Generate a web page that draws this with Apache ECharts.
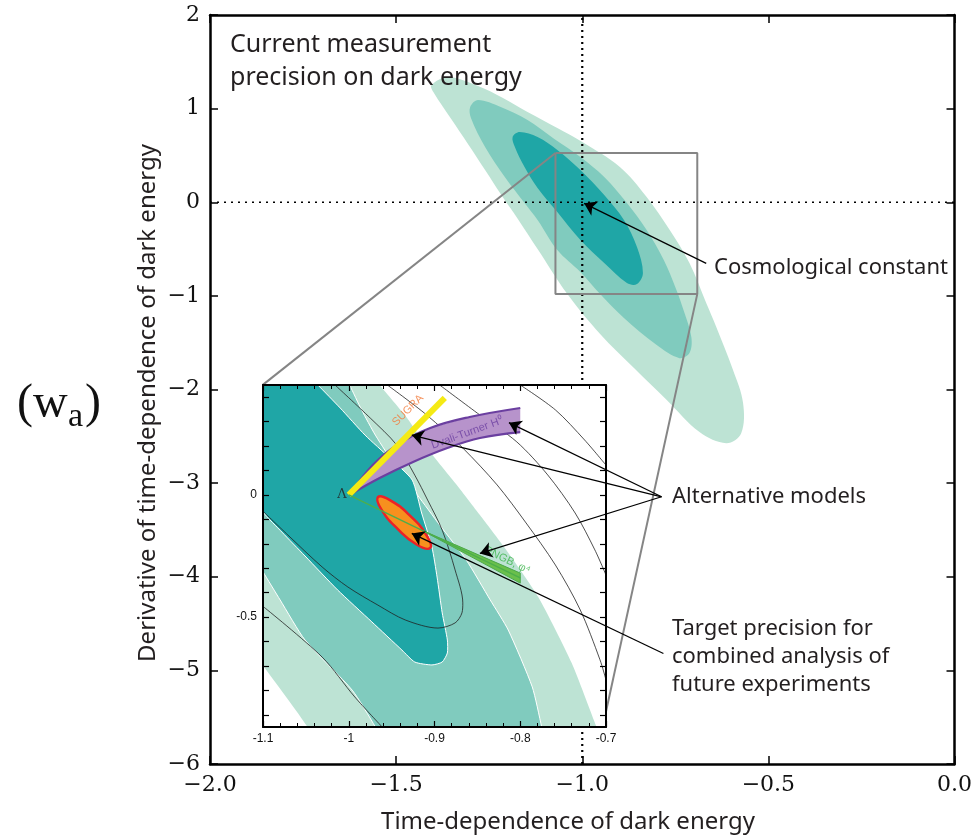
<!DOCTYPE html>
<html>
<head>
<meta charset="utf-8">
<script src="https://cdn.jsdelivr.net/npm/echarts@6/dist/echarts.min.js"></script>
<style>
html, body { margin: 0; background: #fff; }
#chart { width: 975px; height: 839px; }
</style>
</head>
<body>
<div id="chart"></div>
<script>
// main panel: confidence contours (w0, wa), outlines
var OUTER = [[-1.405,1.252],[-1.36,1.338],[-1.28,1.241],[-1.213,1.113],[-1.147,0.964],[-1.067,0.793],[-1.0,0.643],[-0.899,0.376],[-0.827,0.056],[-0.765,-0.297],[-0.712,-0.650],[-0.667,-1.077],[-0.64,-1.333],[-0.595,-1.793],[-0.568,-2.145],[-0.573,-2.466],[-0.613,-2.573],[-0.685,-2.455],[-0.773,-2.113],[-0.861,-1.771],[-0.952,-1.408],[-1.04,-0.981],[-1.12,-0.500],[-1.173,-0.179],[-1.219,0.088],[-1.261,0.344],[-1.307,0.622],[-1.352,0.889],[-1.4,1.177]];
var MIDDLE = [[-1.301,1.017],[-1.28,1.092],[-1.219,1.017],[-1.147,0.878],[-1.075,0.675],[-1.005,0.483],[-0.941,0.269],[-0.88,-0.009],[-0.827,-0.297],[-0.781,-0.618],[-0.747,-0.938],[-0.728,-1.152],[-0.707,-1.440],[-0.712,-1.611],[-0.739,-1.665],[-0.8,-1.526],[-0.888,-1.237],[-0.952,-0.981],[-1.005,-0.746],[-1.067,-0.511],[-1.12,-0.190],[-1.155,-0.009],[-1.208,0.269],[-1.261,0.590],[-1.299,0.900]];
var INNER = [[-1.187,0.697],[-1.168,0.75],[-1.12,0.697],[-1.067,0.558],[-1.005,0.344],[-0.941,0.077],[-0.888,-0.190],[-0.853,-0.479],[-0.837,-0.756],[-0.853,-0.874],[-0.88,-0.863],[-0.941,-0.650],[-1.005,-0.404],[-1.067,-0.105],[-1.12,0.152],[-1.155,0.376],[-1.181,0.590]];

// zoom box and its connectors
var ZOOM_BOX = [[-1.072,0.526],[-0.691,0.526],[-0.691,-0.981],[-1.072,-0.981],[-1.072,0.526]];
var CONNECT_1 = [[-1.072,0.526],[-1.859,-1.953]];
var CONNECT_2 = [[-0.691,-0.981],[-0.944,-5.58]];
var LAMBDA_V = [[-1,-6],[-1,2]];
var LAMBDA_H = [[-2,0],[0,0]];

// inset panel
var IN_LIGHT = [[-1.15,0.5],[-0.975,0.5],[-0.964,0.45],[-0.932,0.315],[-0.905,0.176],[-0.874,0.041],[-0.847,-0.082],[-0.818,-0.217],[-0.779,-0.418],[-0.740,-0.688],[-0.711,-0.95],[-0.705,-1.0],[-1.045,-1.0],[-1.048,-0.95],[-1.099,-0.703],[-1.12,-0.6],[-1.15,-0.6]];
var IN_MEDIUM = [[-1.15,0.5],[-1.006,0.5],[-0.999,0.45],[-0.985,0.348],[-0.969,0.245],[-0.944,0.110],[-0.920,0.0],[-0.894,-0.123],[-0.863,-0.266],[-0.835,-0.430],[-0.814,-0.553],[-0.786,-0.786],[-0.775,-0.95],[-0.772,-1.0],[-0.963,-1.0],[-0.969,-0.95],[-0.996,-0.799],[-1.051,-0.594],[-1.080,-0.430],[-1.1,-0.315],[-1.12,-0.2],[-1.15,-0.2]];
var IN_DARK = [[-1.15,0.5],[-1.05,0.5],[-1.036,0.45],[-1.010,0.356],[-0.981,0.245],[-0.952,0.151],[-0.926,0.061],[-0.915,-0.074],[-0.903,-0.213],[-0.897,-0.336],[-0.891,-0.483],[-0.885,-0.594],[-0.885,-0.647],[-0.891,-0.684],[-0.903,-0.696],[-0.923,-0.684],[-0.938,-0.635],[-0.973,-0.520],[-1.013,-0.389],[-1.051,-0.250],[-1.078,-0.152],[-1.1,-0.070],[-1.13,0.10],[-1.15,0.10]];
var IN_LINE_1 = [[-1.016,0.45],[-0.975,0.315],[-0.944,0.204],[-0.923,0.081],[-0.908,-0.021],[-0.891,-0.144],[-0.876,-0.307],[-0.867,-0.442],[-0.868,-0.483],[-0.876,-0.524],[-0.896,-0.545],[-0.934,-0.512],[-0.966,-0.451],[-1.001,-0.377],[-1.031,-0.295],[-1.071,-0.164],[-1.099,-0.070]];
var IN_LINE_2 = [[-1.099,-0.459],[-1.031,-0.664],[-0.993,-0.827],[-0.961,-0.95]];
var ARC_A = [[-0.955,0.45],[-0.909,0.327],[-0.867,0.192],[-0.827,0.041],[-0.794,-0.111],[-0.759,-0.287],[-0.730,-0.471],[-0.707,-0.675],[-0.700,-0.757]];
var ARC_B = [[-0.894,0.45],[-0.847,0.327],[-0.804,0.217],[-0.768,0.082],[-0.736,-0.074],[-0.713,-0.225],[-0.700,-0.328]];
var ARC_C = [[-0.800,0.45],[-0.759,0.348],[-0.725,0.225],[-0.700,0.122]];

var SUGRA = [[-1.0,0.0],[-0.888,0.397]];
var DT_UPPER = [[-0.999,0.0],[-0.972,0.122],[-0.944,0.204],[-0.905,0.274],[-0.859,0.319],[-0.800,0.356]];
var DT_LOWER = [[-0.999,0.0],[-0.964,0.069],[-0.925,0.135],[-0.885,0.192],[-0.847,0.233],[-0.800,0.257]];
var PNGB_LINE = [[-1.0,0.0],[-0.800,-0.340]];
var PNGB_WEDGE = [[-0.915,-0.144],[-0.800,-0.320],[-0.800,-0.361]];
var TARGET = [[-0.966,-0.009],[-0.952,-0.021],[-0.928,-0.087],[-0.909,-0.167],[-0.905,-0.217],[-0.920,-0.205],[-0.943,-0.139],[-0.962,-0.059]];

var IN_Y_TICKS = [0.4,0.3,0.2,0.1,0,-0.1,-0.2,-0.3,-0.4,-0.5,-0.6,-0.7,-0.8,-0.9];
var IN_Y_LABELS = [0,-0.5];

// annotation arrows (start -> head) in main-axis units
var ARROWS = [
  [[-0.667,-0.653],[-0.995,-0.012]],
  [[-0.787,-3.146],[-1.197,-2.354]],
  [[-0.787,-3.146],[-1.458,-2.487]],
  [[-0.787,-3.146],[-1.275,-3.751]],
  [[-0.782,-4.819],[-1.458,-3.537]]
];

var SANS = '"Noto Sans", "Open Sans", sans-serif';
var SERIF = '"DejaVu Serif", serif';
var INK = '#231f20';

function minus(s) { return String(s).replace('-', '\u2212'); }

function polygonSeries(pts, fill, z, inset, extra) {
  extra = extra || {};
  return {
    type: 'custom',
    xAxisIndex: inset ? 2 : 0,
    yAxisIndex: inset ? 2 : 0,
    z: z,
    clip: !!inset,
    silent: true,
    animation: false,
    data: pts,
    renderItem: function (params, api) {
      if (params.dataIndex !== 0) return;
      var points = pts.map(function (p) { return api.coord(p); });
      return {
        type: 'polygon',
        shape: { points: points, smooth: extra.smooth == null ? 0.35 : extra.smooth },
        style: { fill: fill, stroke: extra.stroke || null, lineWidth: extra.lineWidth || 0 }
      };
    }
  };
}

function pathSeries(pts, color, width, z, inset, extra) {
  extra = extra || {};
  return {
    type: 'line',
    xAxisIndex: inset ? 2 : 0,
    yAxisIndex: inset ? 2 : 0,
    data: pts,
    z: z,
    symbol: 'none',
    silent: true,
    animation: false,
    clip: true,
    smooth: extra.smooth || false,
    lineStyle: { color: color, width: width, type: extra.type || 'solid', cap: extra.cap || 'butt' }
  };
}

function axisCommon(extra) {
  var base = {
    type: 'value',
    splitLine: { show: false },
    axisLine: { show: true, onZero: false, lineStyle: { color: '#000', width: 2.5 } },
    axisTick: { show: true, inside: true, length: 8, lineStyle: { color: '#000', width: 1.5 } }
  };
  return Object.assign(base, extra);
}

var mainLabel = { fontFamily: SERIF, fontSize: 22, color: '#111', margin: 10 };

var inLabel = { fontFamily: '"Liberation Sans Narrow", "Liberation Sans", sans-serif', fontSize: 12, color: '#111', margin: 6 };
var inLine = { show: true, onZero: false, lineStyle: { color: '#000', width: 2 } };
var inTick = { show: true, inside: true, length: 6, lineStyle: { color: '#000', width: 1.2 } };

var option = {
  backgroundColor: '#fff',
  animation: false,
  grid: [
    { left: 210, top: 15, width: 750, height: 749, show: false },
    { left: 263, top: 385, width: 343, height: 342, show: false }
  ],
  xAxis: [
    axisCommon({ gridIndex: 0, position: 'bottom', min: -2, max: 0, interval: 0.5,
      axisLabel: Object.assign({ formatter: function (v) { return minus(v.toFixed(1)); } }, mainLabel) }),
    axisCommon({ gridIndex: 0, position: 'top', min: -2, max: 0, interval: 0.5, axisLabel: { show: false } }),
    { type: 'value', gridIndex: 1, position: 'bottom', min: -1.1, max: -0.7, interval: 0.1, z: 11,
      splitLine: { show: false }, axisLine: inLine, axisTick: inTick,
      minorTick: { show: true, splitNumber: 5, length: 4, lineStyle: { color: '#000', width: 1 } },
      axisLabel: Object.assign({ formatter: function (v) { return String(Math.round(v * 10) / 10); } }, inLabel) },
    { type: 'value', gridIndex: 1, position: 'top', min: -1.1, max: -0.7, interval: 0.1, z: 11,
      splitLine: { show: false }, axisLine: inLine, axisTick: inTick,
      minorTick: { show: true, splitNumber: 5, length: 4, lineStyle: { color: '#000', width: 1 } },
      axisLabel: { show: false } }
  ],
  yAxis: [
    axisCommon({ gridIndex: 0, position: 'left', min: -6, max: 2, interval: 1,
      axisLabel: Object.assign({ formatter: function (v) { return minus(v); } }, mainLabel) }),
    axisCommon({ gridIndex: 0, position: 'right', min: -6, max: 2, interval: 1, axisLabel: { show: false } }),
    { type: 'value', gridIndex: 1, position: 'left', min: -0.95, max: 0.45, z: 11,
      splitLine: { show: false }, axisLine: inLine,
      axisTick: Object.assign({ customValues: IN_Y_TICKS }, inTick),
      axisLabel: Object.assign({ customValues: IN_Y_LABELS, margin: 5,
        formatter: function (v) { return String(v); } }, inLabel) },
    { type: 'value', gridIndex: 1, position: 'right', min: -0.95, max: 0.45, z: 11,
      splitLine: { show: false }, axisLine: inLine,
      axisTick: Object.assign({ customValues: IN_Y_TICKS }, inTick),
      axisLabel: { show: false } }
  ],
  series: [
    polygonSeries(OUTER, '#bde3d4', 2, false),
    polygonSeries(MIDDLE, '#80cbbe', 2, false),
    polygonSeries(INNER, '#1fa6a6', 2, false),
    pathSeries(LAMBDA_V, '#000', 2.2, 2, false, { type: [2, 4] }),
    pathSeries(LAMBDA_H, '#000', 1.4, 2, false, { type: [2, 5] }),
    pathSeries(ZOOM_BOX, '#858585', 2, 2, false),
    pathSeries(CONNECT_1, '#858585', 2, 2, false),
    pathSeries(CONNECT_2, '#858585', 2, 2, false),
    {
      type: 'custom', xAxisIndex: 2, yAxisIndex: 2, z: 3, silent: true, data: [[-0.9, 0]],
      renderItem: function (params) {
        var c = params.coordSys;
        return { type: 'rect', shape: { x: c.x, y: c.y, width: c.width, height: c.height }, style: { fill: '#fff' } };
      }
    },
    polygonSeries(IN_LIGHT, '#bde3d4', 4, true, { smooth: 0.2 }),
    polygonSeries(IN_MEDIUM, '#80cbbe', 5, true, { smooth: 0.2, stroke: '#fff', lineWidth: 1 }),
    polygonSeries(IN_DARK, '#1fa6a6', 6, true, { smooth: 0.2, stroke: '#fff', lineWidth: 1 }),
    pathSeries(IN_LINE_1, '#222', 0.8, 7, true, { smooth: 0.3 }),
    pathSeries(IN_LINE_2, '#222', 0.8, 7, true, { smooth: 0.3 }),
    pathSeries(ARC_A, '#222', 0.8, 7, true, { smooth: 0.3 }),
    pathSeries(ARC_B, '#222', 0.8, 7, true, { smooth: 0.3 }),
    pathSeries(ARC_C, '#222', 0.8, 7, true, { smooth: 0.3 }),
    polygonSeries(TARGET, '#f7901e', 8, true, { smooth: 0.5, stroke: '#ec2227', lineWidth: 2.5 }),
    polygonSeries(DT_UPPER.concat(DT_LOWER.slice().reverse()), '#b793cb', 9, true, { smooth: 0 }),
    pathSeries(DT_UPPER, '#6b3fa0', 2.2, 9, true, { smooth: 0.4 }),
    pathSeries(DT_LOWER, '#6b3fa0', 2.2, 9, true, { smooth: 0.4 }),
    pathSeries(SUGRA, '#f5ea14', 6, 9, true),
    pathSeries(PNGB_LINE, '#4cae4c', 1.4, 9, true),
    polygonSeries(PNGB_WEDGE, '#6abf4b', 9, true, { smooth: 0, stroke: '#4aa84a', lineWidth: 1 }),
    {
      type: 'scatter', xAxisIndex: 2, yAxisIndex: 2, z: 10, symbolSize: 0, silent: true,
      label: { show: true, position: 'inside', fontFamily: '"Liberation Sans", sans-serif', fontSize: 11 },
      data: [
        { value: [-0.931, 0.347], label: { formatter: 'SUGRA', rotate: 45, color: '#f37b3a' } },
        { value: [-0.862, 0.253], label: { formatter: 'Dvali-Turner H\u2070', rotate: 20, color: '#6b3fa0' } },
        { value: [-0.815, -0.268], label: { formatter: 'PNGB, \u03c6\u2074', rotate: -26, color: '#3cb44b' } },
        { value: [-1.0, 0.0], label: { formatter: '\u039b', position: 'left', distance: 2, fontFamily: SERIF, fontSize: 13, color: '#222' } }
      ]
    },
    {
      type: 'lines', coordinateSystem: 'cartesian2d', xAxisIndex: 0, yAxisIndex: 0, z: 12, silent: true,
      symbol: ['none', 'arrow'], symbolSize: 12,
      lineStyle: { color: '#000', width: 1.2, opacity: 1, curveness: 0 },
      data: ARROWS.map(function (a) { return { coords: a }; })
    }
  ],
  graphic: [
    { type: 'text', left: 230, top: 28, z: 20,
      style: { text: 'Current measurement\nprecision on dark energy', font: '25px ' + SANS, fill: INK, lineHeight: 33 } },
    { type: 'text', x: 714, y: 268, z: 20,
      style: { text: 'Cosmological constant', font: '22px ' + SANS, fill: INK, align: 'left', verticalAlign: 'middle' } },
    { type: 'text', x: 672, y: 497, z: 20,
      style: { text: 'Alternative models', font: '22px ' + SANS, fill: INK, align: 'left', verticalAlign: 'middle' } },
    { type: 'text', x: 672, y: 615, z: 20,
      style: { text: 'Target precision for\ncombined analysis of\nfuture experiments', font: '22px ' + SANS, fill: INK,
        lineHeight: 28, align: 'left', verticalAlign: 'top' } },
    { type: 'text', x: 148, y: 403, rotation: Math.PI / 2, z: 20,
      style: { text: 'Derivative of time-dependence of dark energy', font: '24px ' + SANS, fill: INK, align: 'center', verticalAlign: 'middle' } },
    { type: 'text', x: 568, y: 822, z: 20,
      style: { text: 'Time-dependence of dark energy', font: '24px ' + SANS, fill: INK, align: 'center', verticalAlign: 'middle' } },
    { type: 'text', x: 17, y: 404, z: 20,
      style: { text: '(w', font: '48px "Liberation Serif", serif', fill: '#111', align: 'left', verticalAlign: 'middle' } },
    { type: 'text', x: 68, y: 417, z: 20,
      style: { text: 'a', font: '34px "Liberation Serif", serif', fill: '#111', align: 'left', verticalAlign: 'middle' } },
    { type: 'text', x: 85, y: 404, z: 20,
      style: { text: ')', font: '48px "Liberation Serif", serif', fill: '#111', align: 'left', verticalAlign: 'middle' } }
  ]
};

var chart = echarts.init(document.getElementById('chart'));
chart.setOption(option);
</script>
</body>
</html>
